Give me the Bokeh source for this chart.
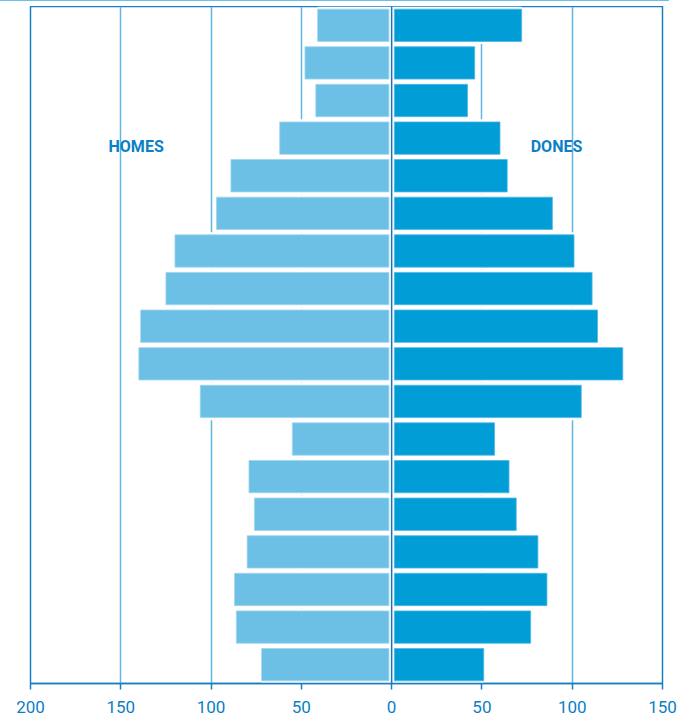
from bokeh.plotting import figure
from bokeh.models import Range1d, FixedTicker, Span, Label, Div, ColumnDataSource
from bokeh.layouts import column
from bokeh.embed import file_html
from bokeh.resources import INLINE

# Age groups, youngest (bottom) to oldest (top)
ages = ["0-4", "5-9", "10-14", "15-19", "20-24", "25-29", "30-34", "35-39", "40-44",
        "45-49", "50-54", "55-59", "60-64", "65-69", "70-74", "75-79", "80-84", "85+"]
homes = [72, 86, 87, 80, 76, 79, 55, 106, 140, 139, 125, 120, 97, 89, 62, 42, 48, 41]
dones = [51, 77, 86, 81, 69, 65, 57, 105, 128, 114, 111, 101, 89, 64, 60, 42, 46, 72]
tick_values = [-200, -150, -100, -50, 0, 50, 100, 150]
tick_labels = ["200", "150", "100", "50", "0", "50", "100", "150"]
grid_values = [-150, -100, -50, 50, 100]

FONT = "Roboto"
BLUE_TXT = "#0b80c5"
DARK = "#1a7ec4"
GRID = "#62b6e3"
LIGHT_BAR = "#6cc0e5"
DARK_BAR = "#009dd6"

y = list(range(len(ages)))
gap = 1.5
src = ColumnDataSource(dict(
    y=y,
    hl=[-v for v in homes], hr=[-gap] * len(ages),
    dl=[gap] * len(ages), dr=dones,
    hz=[0] * len(ages),
))

p = figure(frame_width=632, frame_height=677, min_border_left=38, min_border_right=21,
           min_border_top=0, min_border_bottom=0,
           x_range=Range1d(-200, 150), y_range=Range1d(-0.5, len(ages) - 0.5),
           output_backend="svg", toolbar_location=None, tools="")

p.background_fill_color = "white"
p.border_fill_color = "white"
p.outline_line_color = DARK
p.outline_line_width = 1.5

p.yaxis.visible = False
p.ygrid.visible = False
p.xgrid.ticker = FixedTicker(ticks=grid_values)
p.xgrid.grid_line_color = GRID
p.xgrid.grid_line_width = 1.5

ax = p.xaxis[0]
ax.ticker = FixedTicker(ticks=tick_values)
ax.major_label_overrides = {v: t for v, t in zip(tick_values, tick_labels)}
ax.axis_line_color = DARK
ax.axis_line_width = 1.5
ax.major_tick_line_color = DARK
ax.major_tick_line_width = 1.5
ax.major_tick_in = 0
ax.major_tick_out = 6
ax.minor_tick_line_color = None
ax.major_label_standoff = 11
ax.major_label_text_font = FONT
ax.major_label_text_font_size = "17px"
ax.major_label_text_color = BLUE_TXT

# white row backgrounds hide grid lines where bars extend past them
p.hbar(y="y", left="hl", right="hz", height=1.0, source=src,
       fill_color="white", line_color=None)
p.hbar(y="y", left="hz", right="dr", height=1.0, source=src,
       fill_color="white", line_color=None)

p.hbar(y="y", left="hl", right="hr", height=0.86, source=src,
       fill_color=LIGHT_BAR, line_color="#9fd6ef", line_width=0.8)
p.hbar(y="y", left="dl", right="dr", height=0.86, source=src,
       fill_color=DARK_BAR, line_color="#4fb8e3", line_width=0.8)

p.add_layout(Span(location=0, dimension="height", line_color="#1a72b8", line_width=1.5))

p.add_layout(Label(x=-141.5, y=13.77, text="HOMES", text_font=FONT, text_font_style="bold",
                   text_font_size="16px", text_color=BLUE_TXT,
                   text_align="center", text_baseline="middle"))
p.add_layout(Label(x=91.3, y=13.77, text="DONES", text_font=FONT, text_font_style="bold",
                   text_font_size="16px", text_color=BLUE_TXT,
                   text_align="center", text_baseline="middle"))

band = Div(width=672, height=4, styles={"background-color": LIGHT_BAR})
layout = column(band, p, spacing=0, styles={"margin-left": "-8px", "margin-top": "-8px"})

open("out.html", "w").write(file_html(layout, INLINE))
